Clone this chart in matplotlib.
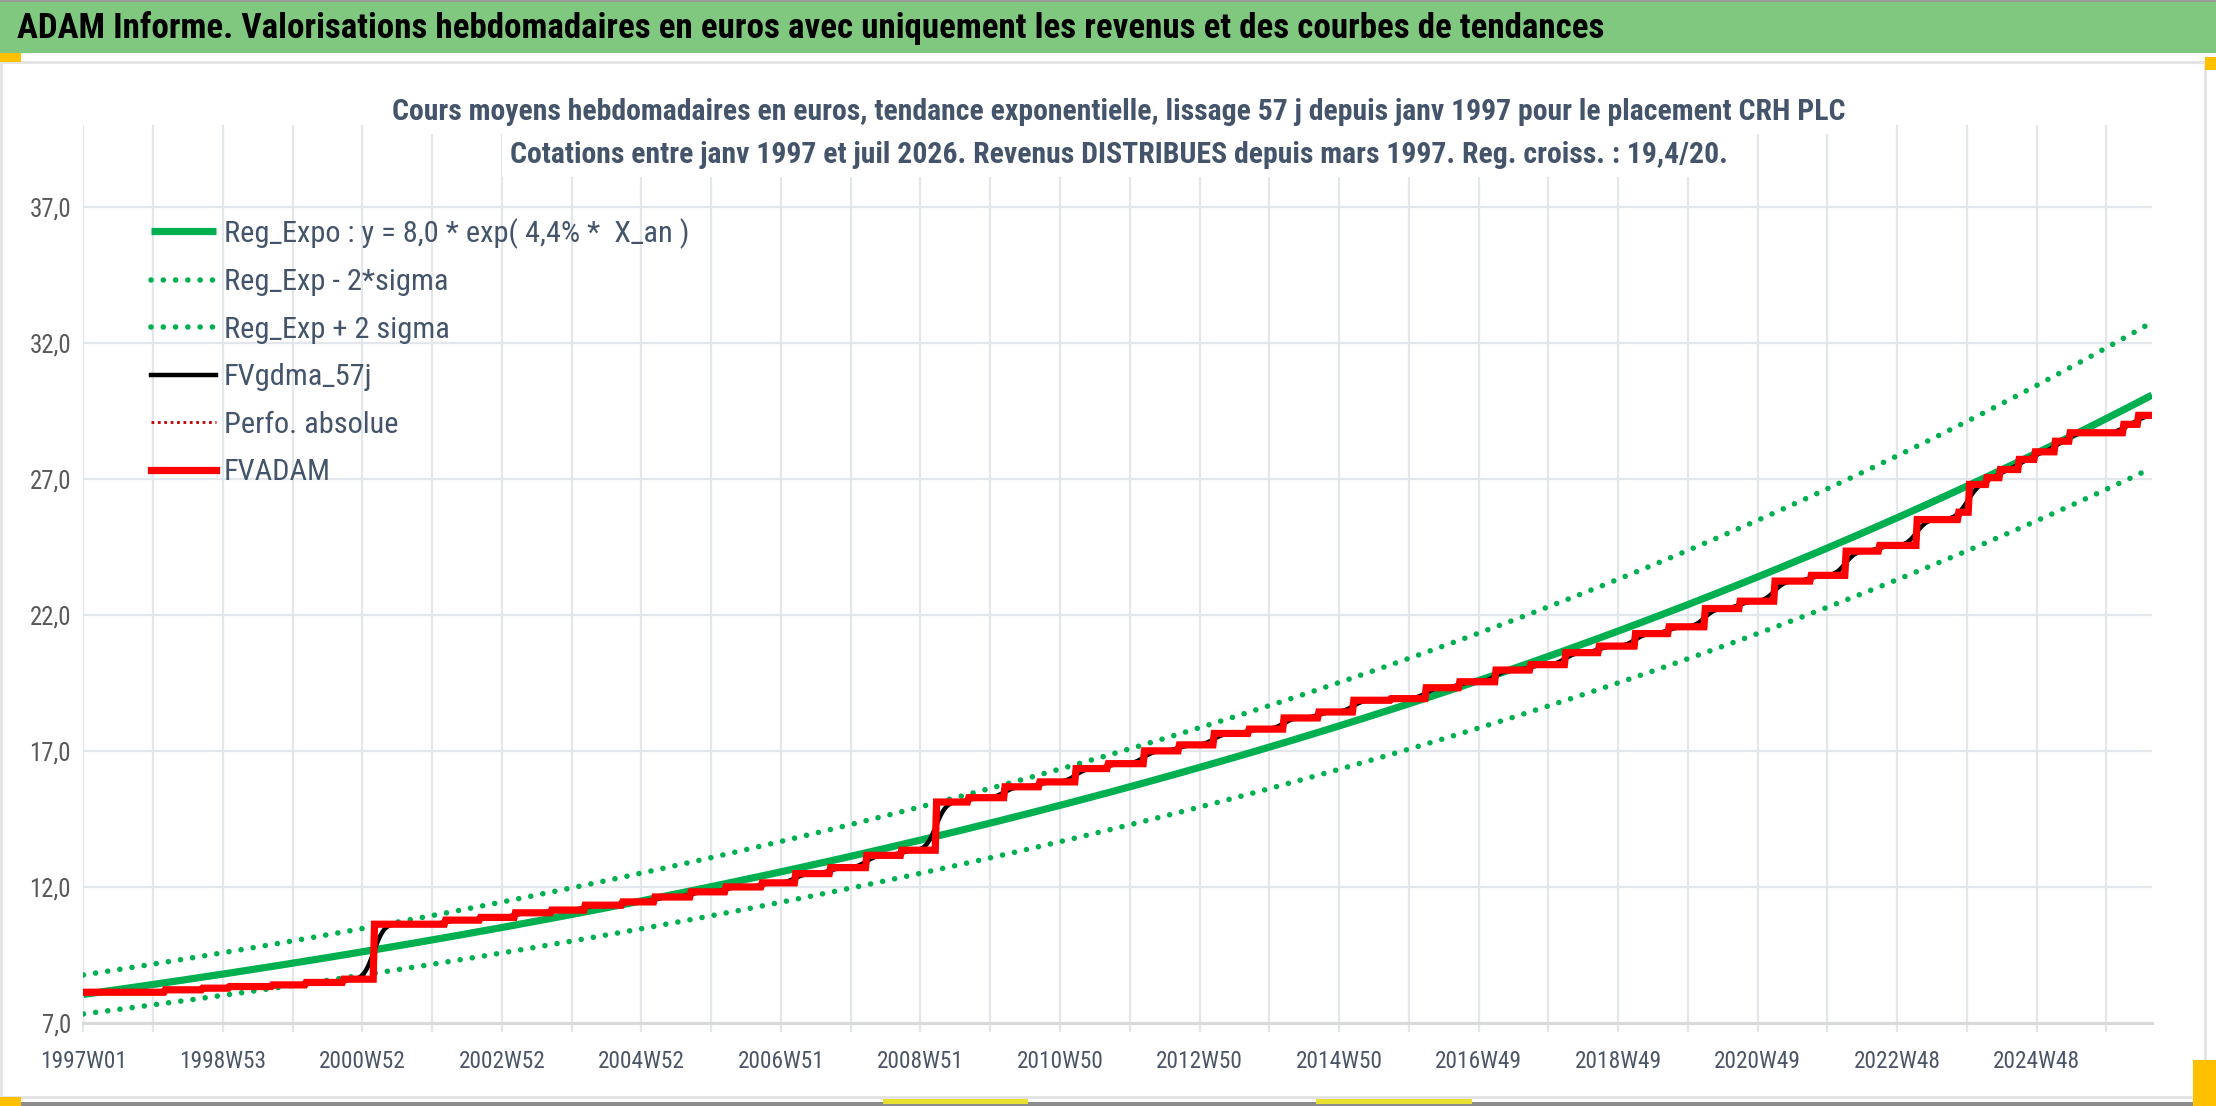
import numpy as np
import matplotlib
matplotlib.use("Agg")
import matplotlib.pyplot as plt
from matplotlib import font_manager as fm
from matplotlib.patches import Rectangle

# police etroite comme dans Excel si elle est la, sinon Roboto
try:
    fm.findfont('Roboto Condensed', fallback_to_default=False)
    FONT = ['Roboto Condensed', 'DejaVu Sans']
    fs = 1.12
except ValueError:
    FONT = ['Roboto', 'DejaVu Sans']
    fs = 1.0
plt.rcParams['font.family'] = FONT

W, H = 2216, 1106

# --- donnees -------------------------------------------------------------
n_weeks = 1543  # 1997W01 .. 2026W30

label_weeks = [0, 104, 208, 312, 416, 520, 624, 728, 832, 936, 1040, 1144, 1248, 1352, 1456]
week_labels = ['1997W01', '1998W53', '2000W52', '2002W52', '2004W52', '2006W51', '2008W51',
               '2010W50', '2012W50', '2014W50', '2016W49', '2018W49', '2020W49', '2022W48',
               '2024W48']

y_ticks = [7, 12, 17, 22, 27, 32, 37]
y_labels = ['7,0', '12,0', '17,0', '22,0', '27,0', '32,0', '37,0']

# FVADAM : niveau atteint a partir de la semaine indiquee
step_weeks = [0, 61, 89, 109, 141, 166, 194, 217, 270, 296, 322, 349, 374, 402,
              426, 453, 479, 506, 531, 557, 584, 610, 636, 660, 687, 713, 740, 764, 791, 817,
              843, 869, 895, 921, 947, 975, 1001, 1026, 1053, 1079, 1105, 1130, 1157, 1182,
              1209, 1235, 1261, 1288, 1314, 1339, 1367, 1398, 1406, 1419, 1429, 1443, 1455,
              1470, 1481, 1521, 1532]
step_levels = [8.13, 8.22, 8.28, 8.34, 8.40, 8.49, 8.61, 10.63, 10.78, 10.88, 11.05, 11.15,
               11.33, 11.45, 11.63, 11.82, 12.00, 12.15, 12.49, 12.71, 13.16, 13.35, 15.12,
               15.28, 15.68, 15.86, 16.35, 16.53, 17.00, 17.22, 17.64, 17.80, 18.21, 18.43,
               18.86, 18.92, 19.32, 19.54, 19.97, 20.17, 20.61, 20.85, 21.31, 21.56, 22.23,
               22.50, 23.24, 23.45, 24.34, 24.55, 25.50, 25.77, 26.79, 27.04, 27.34, 27.71,
               27.99, 28.38, 28.69, 29.00, 29.33]

# regression exponentielle : y = a * exp(k * X_an), bandes +/- 2 sigma
reg_a = 8.05
reg_k = 0.0446
two_sigma = 0.089
smooth_weeks = 6  # lissage 57 j

legend_labels = ['Reg_Expo : y = 8,0 * exp( 4,4% *  X_an )', 'Reg_Exp - 2*sigma',
                 'Reg_Exp + 2 sigma', 'FVgdma_57j', 'Perfo. absolue', 'FVADAM']

# --- series --------------------------------------------------------------
weeks = np.arange(n_weeks)
idx = np.searchsorted(step_weeks, weeks, side='right') - 1
fvadam = np.array(step_levels)[idx]

half = 3 * smooth_weeks
kern = np.exp(-0.5 * (np.arange(-half, half + 1) / smooth_weeks) ** 2)
kern = kern / kern.sum()
padded = np.pad(fvadam, half, mode='edge')
fvgdma = np.convolve(padded, kern, mode='valid')

x_an = weeks / 52.18
reg = reg_a * np.exp(reg_k * x_an)
reg_lo = reg * (1 - two_sigma)
reg_hi = reg * (1 + two_sigma)

# --- figure --------------------------------------------------------------
fig = plt.figure(figsize=(W / 100, H / 100), dpi=100)
fig.patch.set_facecolor('white')

def px_rect(x0, y0, x1, y1, **kw):
    fig.patches.append(Rectangle((x0 / W, 1 - y1 / H), (x1 - x0) / W, (y1 - y0) / H,
                                 transform=fig.transFigure, figure=fig, **kw))

# bandeau vert et cadre du graphique
px_rect(0, 0, W, 2, facecolor='#9A9A9A', edgecolor='none')
px_rect(0, 2, W, 53, facecolor='#80C880', edgecolor='none')
px_rect(1, 62, 2205, 1097, facecolor='none', edgecolor='#E2E2E2', lw=2)
px_rect(0, 1102, W, H, facecolor='#8C8C8C', edgecolor='none')
# poignees de selection
px_rect(0, 53, 21, 62, facecolor='#FFC000', edgecolor='none')
px_rect(2205, 57, W, 70, facecolor='#FFC000', edgecolor='none')
px_rect(0, 1097, 21, 1106, facecolor='#FFC000', edgecolor='none')
px_rect(2193, 1060, W, H, facecolor='#FFC000', edgecolor='none')
px_rect(883, 1099, 1028, 1104, facecolor='#E8E030', edgecolor='none')
px_rect(1316, 1099, 1472, 1104, facecolor='#E8E030', edgecolor='none')

fig.text(17 / W, 1 - 28 / H,
         'ADAM Informe. Valorisations hebdomadaires en euros avec uniquement les revenus '
         'et des courbes de tendances',
         fontsize=22.5 * fs, fontweight='bold', color='black', ha='left', va='center')

ax = fig.add_axes([83.4 / W, 1 - 1023 / H, (2152 - 83.4) / W, (1023 - 125) / H])
ax.set_facecolor('none')

ax.plot(weeks, reg, color='#00B050', lw=5.2, solid_capstyle='butt', label=legend_labels[0])
ax.plot(weeks, reg_lo, color='#00B050', lw=4, linestyle=(0, (0.01, 2.2)),
        dash_capstyle='round', label=legend_labels[1])
ax.plot(weeks, reg_hi, color='#00B050', lw=4, linestyle=(0, (0.01, 2.2)),
        dash_capstyle='round', label=legend_labels[2])
ax.plot(weeks, fvgdma, color='black', lw=3.2, label=legend_labels[3])
ax.plot(weeks, fvadam, color='#C00000', lw=2, linestyle=(0, (1, 1.3)), label=legend_labels[4])
ax.plot(weeks, fvadam, color='#FF0000', lw=5.2, solid_joinstyle='miter', label=legend_labels[5])

ax.set_xlim(0, n_weeks - 1)
ax.set_ylim(7, 40)

ax.set_yticks(y_ticks)
ax.set_yticklabels(y_labels)
ax.set_xticks(label_weeks)
ax.set_xticklabels(week_labels)
ax.set_xticks(np.arange(0, n_weeks, 52), minor=True)

for s in ['top', 'right', 'left']:
    ax.spines[s].set_visible(False)
ax.spines['bottom'].set_color('#D9D9D9')
ax.spines['bottom'].set_linewidth(2.2)

ax.grid(axis='y', color='#E3E6EB', lw=1.6)
ax.grid(axis='x', which='both', color='#E3E6EB', lw=1.6)
ax.set_axisbelow(True)

ax.tick_params(axis='y', length=0, pad=9, labelsize=16 * fs, labelcolor='#595959')
ax.tick_params(axis='x', which='both', direction='out', length=6.5, width=1.6,
               color='#E3E6EB', pad=13, labelsize=15 * fs, labelcolor='#4A5568')

t1 = fig.text(0.505, 1 - 112 / H,
              'Cours moyens hebdomadaires en euros, tendance exponentielle, lissage 57 j '
              'depuis janv 1997 pour le placement CRH PLC',
              fontsize=19.1 * fs, fontweight='bold', color='#44546A', ha='center', va='center')
t2 = fig.text(0.505, 1 - 155 / H,
              'Cotations entre janv 1997 et juil 2026. Revenus DISTRIBUES depuis mars 1997. '
              'Reg. croiss. : 19,4/20.',
              fontsize=19.1 * fs, fontweight='bold', color='#44546A', ha='center', va='center')
for t in (t1, t2):
    t.set_bbox(dict(facecolor='white', edgecolor='none', pad=6))

leg = ax.legend(loc='upper left', bbox_to_anchor=(151 / W, 1 - 218 / H),
                bbox_transform=fig.transFigure, frameon=False, fontsize=19.5 * fs,
                handlelength=2.4 / fs, handletextpad=0.25, labelspacing=0.72 / fs,
                borderpad=0, borderaxespad=0, labelcolor='#44546A')

fig.savefig('out.png', dpi=100)
